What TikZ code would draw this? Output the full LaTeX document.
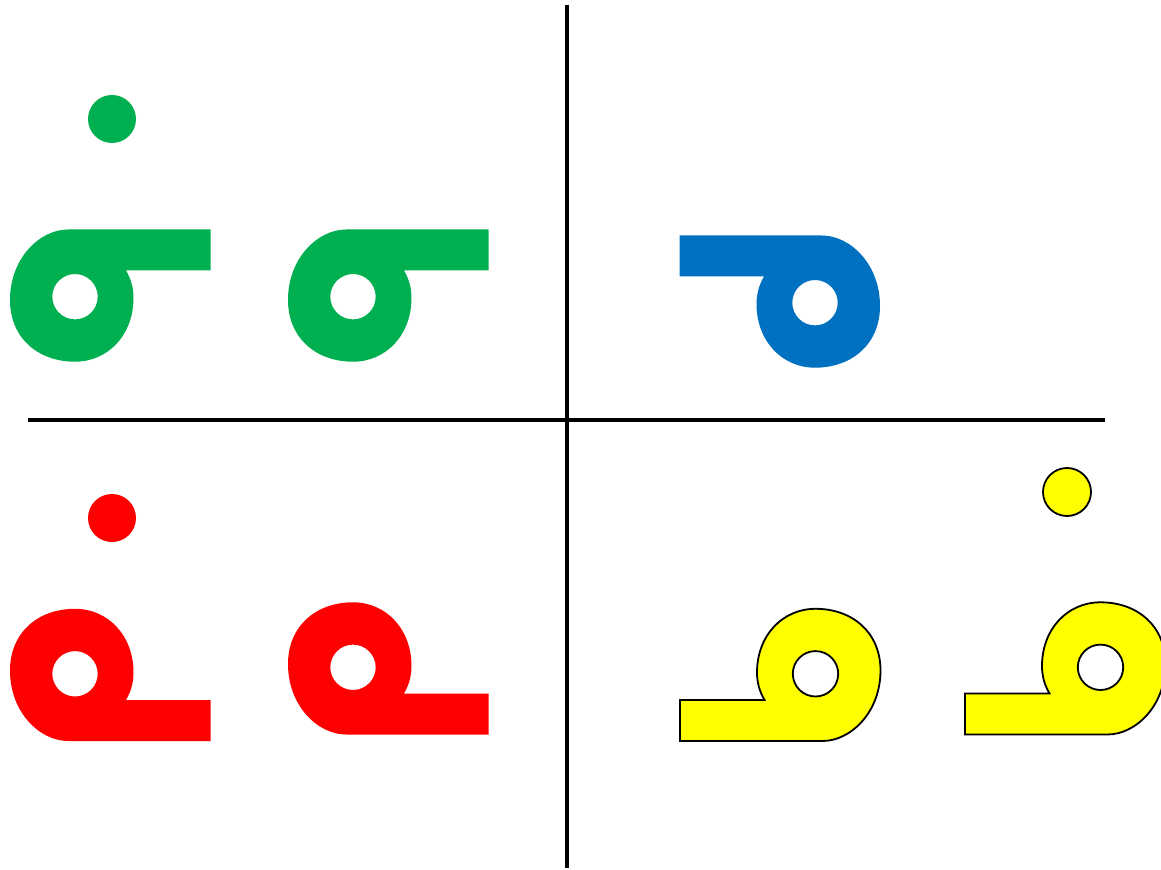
\documentclass[tikz,border=0pt]{standalone}
\definecolor{wgreen}{HTML}{00AF50}
\definecolor{wblue}{HTML}{0070C0}
\definecolor{wred}{HTML}{FF0000}
\definecolor{wyellow}{HTML}{FFFF00}
\tikzset{
  whistle/.pic={
    \path[pic actions, even odd rule]
      (68,229.5) -- (210.5,229.5) -- (210.5,270.5) -- (126,270.5)
      .. controls (131,279) and (133.5,288) .. (133.5,298)
      .. controls (133.5,335) and (108,361.7) .. (75,361.7)
      .. controls (38,361.7) and (10,338) .. (10,300)
      .. controls (10,258) and (40,229.5) .. (68,229.5) -- cycle
      (75,296.7) circle[radius=22.7];
  },
  axis/.style={line width=2.4pt, black},
  outlined/.style={draw=black, line width=1.35pt}
}
\begin{document}
\begin{tikzpicture}[x=0.75pt, y=-0.75pt]
\useasboundingbox (0,0) rectangle (1161,870);
\fill[white] (0,0) rectangle (1161,870);
\clip (0,0) rectangle (1161,870);
% axes
\coordinate (vt) at (567,5);
\coordinate (vb) at (567,868);
\coordinate (hl) at (28,420);
\coordinate (hr) at (1105,420);
\draw[axis] (vt) -- (vb);
\draw[axis] (hl) -- (hr);
% green
\pic[fill=wgreen] at (0,0) {whistle};
\pic[fill=wgreen] at (278,0) {whistle};
\fill[wgreen] (112,119) circle[radius=24];
% blue (mirrored)
\begin{scope}[shift={(890,6)}, xscale=-1]
\pic[fill=wblue, transform shape] at (0,0) {whistle};
\end{scope}
% red (flipped vertically)
\begin{scope}[shift={(0,970.5)}, yscale=-1]
\pic[fill=wred, transform shape] at (0,0) {whistle};
\end{scope}
\begin{scope}[shift={(278,964)}, yscale=-1]
\pic[fill=wred, transform shape] at (0,0) {whistle};
\end{scope}
\fill[wred] (112,518) circle[radius=24];
% yellow (rotated)
\begin{scope}[shift={(890.5,970.5)}, xscale=-1, yscale=-1]
\pic[fill=wyellow, outlined, transform shape] at (0,0) {whistle};
\end{scope}
\begin{scope}[shift={(1175.5,964)}, xscale=-1, yscale=-1]
\pic[fill=wyellow, outlined, transform shape] at (0,0) {whistle};
\end{scope}
\filldraw[fill=wyellow, outlined] (1067,492) circle[radius=24];
\end{tikzpicture}
\end{document}
